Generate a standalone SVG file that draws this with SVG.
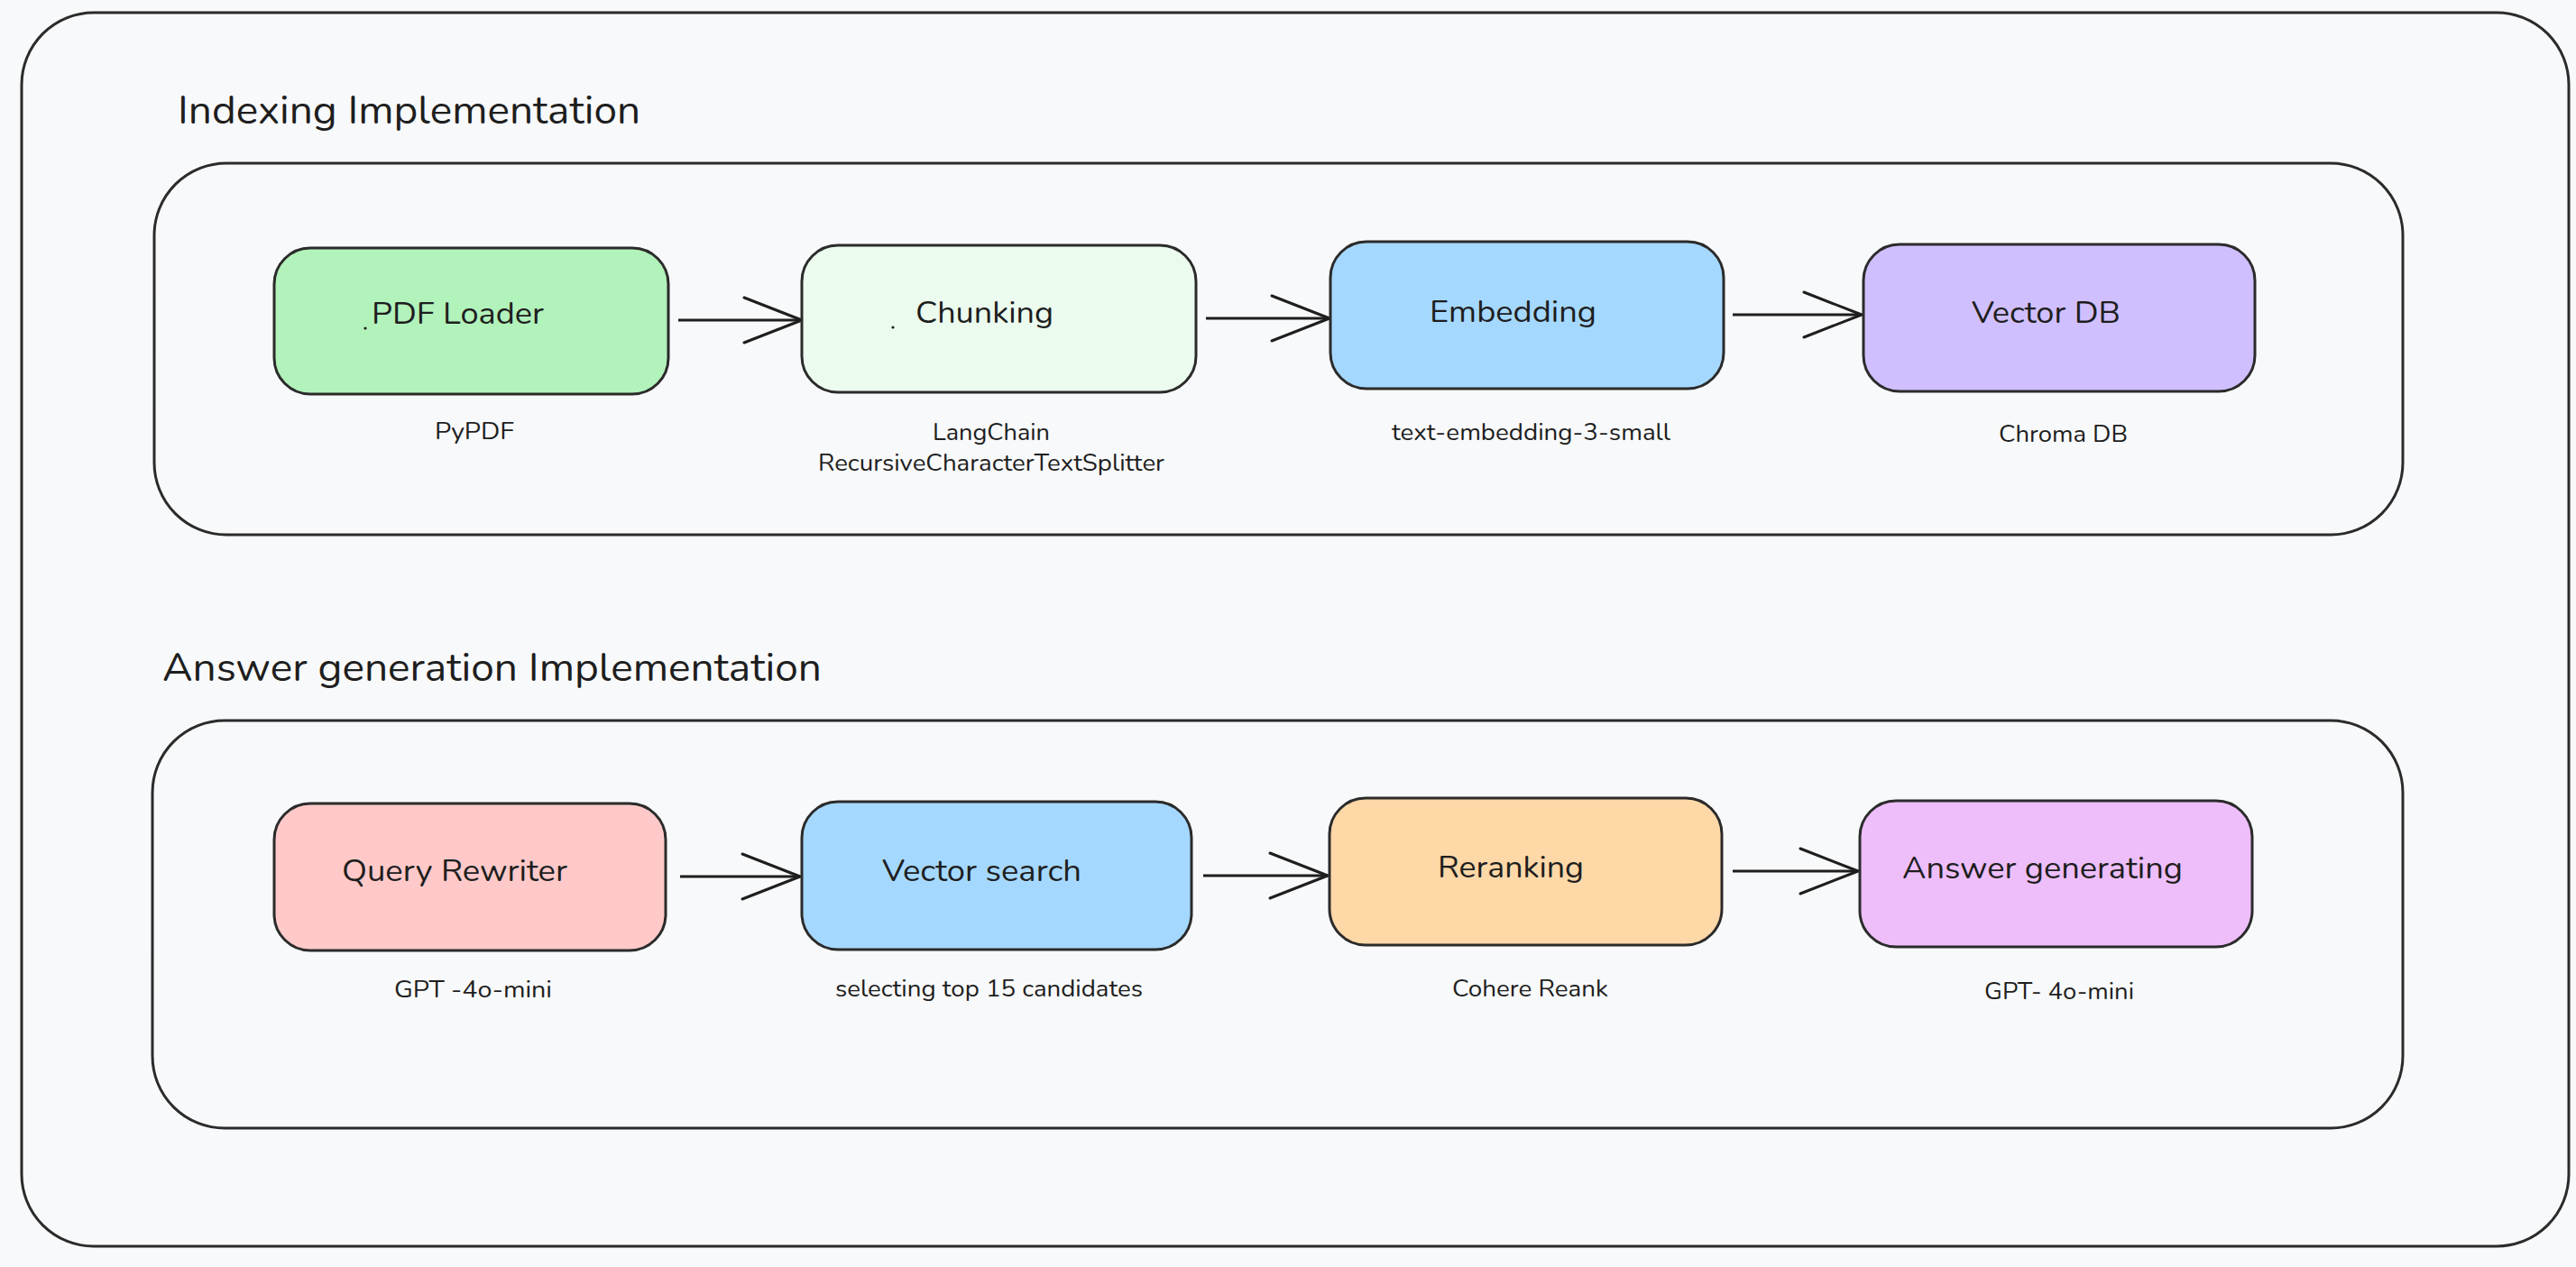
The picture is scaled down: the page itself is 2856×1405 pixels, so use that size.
<svg xmlns="http://www.w3.org/2000/svg" width="2856" height="1405" viewBox="0 0 2856 1405">
  <style>
    .frame { fill: #f8f9fa; stroke: #2b2b2b; stroke-width: 3; }
    .node { stroke: #2b2b2b; stroke-width: 3; }
    .title { font-family: Nunito, Lato, "Open Sans", sans-serif; font-size: 45px; fill: #1e1e1e; }
    .label { font-family: Nunito, Lato, "Open Sans", sans-serif; font-size: 35px; fill: #1e1e1e; }
    .sub { font-family: Nunito, Lato, "Open Sans", sans-serif; font-size: 26px; fill: #1e1e1e; }
    .conn { stroke: #1e1e1e; stroke-width: 3; fill: none; }
  </style>
  <defs>
    <marker id="arrow" markerUnits="userSpaceOnUse" viewBox="-70 -30 76 60" refX="0" refY="0" markerWidth="76" markerHeight="60" orient="auto">
      <path d="M -64 -25 L 0 0 L -64 25" fill="none" stroke="#1e1e1e" stroke-width="3" stroke-linecap="round" stroke-linejoin="round"/>
    </marker>
  </defs>
  <rect x="0" y="0" width="2856" height="1405" fill="#f8f9fa"/>

  <g id="outer">
    <rect class="frame" x="24" y="14" width="2824" height="1368" rx="80" ry="80"/>
  </g>

  <g id="indexing">
    <text class="title" x="197" y="137" textLength="513" lengthAdjust="spacingAndGlyphs">Indexing Implementation</text>
    <rect class="frame" x="171" y="181" width="2493" height="412" rx="80" ry="80"/>
  </g>

  <g id="answer">
    <text class="title" x="180" y="755" textLength="731" lengthAdjust="spacingAndGlyphs">Answer generation Implementation</text>
    <rect class="frame" x="169" y="799" width="2495" height="452" rx="80" ry="80"/>
  </g>

  <g id="connectors">
    <line class="conn" x1="752" y1="355" x2="889" y2="355" marker-end="url(#arrow)"/>
    <line class="conn" x1="1337" y1="353" x2="1474" y2="353" marker-end="url(#arrow)"/>
    <line class="conn" x1="1921" y1="349" x2="2064" y2="349" marker-end="url(#arrow)"/>
    <line class="conn" x1="754" y1="972" x2="887" y2="972" marker-end="url(#arrow)"/>
    <line class="conn" x1="1334" y1="971" x2="1472" y2="971" marker-end="url(#arrow)"/>
    <line class="conn" x1="1921" y1="966" x2="2060" y2="966" marker-end="url(#arrow)"/>
  </g>

  <g id="pdf-loader">
    <rect class="node" x="304" y="275" width="437" height="162" rx="40" ry="40" fill="#b2f2bb"/>
    <circle cx="405" cy="364" r="1.6" fill="#1e1e1e"/>
    <text class="label" x="412" y="359" textLength="191" lengthAdjust="spacingAndGlyphs">PDF Loader</text>
    <text class="sub" x="482" y="487" textLength="88" lengthAdjust="spacingAndGlyphs">PyPDF</text>
  </g>

  <g id="chunking">
    <rect class="node" x="889" y="272" width="437" height="163" rx="40" ry="40" fill="#ebfbee"/>
    <circle cx="990" cy="363" r="1.6" fill="#1e1e1e"/>
    <text class="label" x="1015" y="358" textLength="153" lengthAdjust="spacingAndGlyphs">Chunking</text>
    <text class="sub" x="1034" y="488" textLength="130" lengthAdjust="spacingAndGlyphs">LangChain</text>
    <text class="sub" x="907" y="522" textLength="384" lengthAdjust="spacingAndGlyphs">RecursiveCharacterTextSplitter</text>
  </g>

  <g id="embedding">
    <rect class="node" x="1475" y="268" width="436" height="163" rx="40" ry="40" fill="#a5d8ff"/>
    <text class="label" x="1585" y="357" textLength="185" lengthAdjust="spacingAndGlyphs">Embedding</text>
    <text class="sub" x="1543" y="488" textLength="309" lengthAdjust="spacingAndGlyphs">text-embedding-3-small</text>
  </g>

  <g id="vector-db">
    <rect class="node" x="2066" y="271" width="434" height="163" rx="40" ry="40" fill="#d0bfff"/>
    <text class="label" x="2186" y="358" textLength="165" lengthAdjust="spacingAndGlyphs">Vector DB</text>
    <text class="sub" x="2216" y="490" textLength="143" lengthAdjust="spacingAndGlyphs">Chroma DB</text>
  </g>

  <g id="query-rewriter">
    <rect class="node" x="304" y="891" width="434" height="163" rx="40" ry="40" fill="#ffc9c9"/>
    <text class="label" x="379" y="977" textLength="250" lengthAdjust="spacingAndGlyphs">Query Rewriter</text>
    <text class="sub" x="437" y="1106" textLength="175" lengthAdjust="spacingAndGlyphs">GPT -4o-mini</text>
  </g>

  <g id="vector-search">
    <rect class="node" x="889" y="889" width="432" height="164" rx="40" ry="40" fill="#a5d8ff"/>
    <text class="label" x="978" y="977" textLength="221" lengthAdjust="spacingAndGlyphs">Vector search</text>
    <text class="sub" x="926" y="1105" textLength="341" lengthAdjust="spacingAndGlyphs">selecting top 15 candidates</text>
  </g>

  <g id="reranking">
    <rect class="node" x="1474" y="885" width="435" height="163" rx="40" ry="40" fill="#ffd8a8"/>
    <text class="label" x="1594" y="973" textLength="162" lengthAdjust="spacingAndGlyphs">Reranking</text>
    <text class="sub" x="1610" y="1105" textLength="173" lengthAdjust="spacingAndGlyphs">Cohere Reank</text>
  </g>

  <g id="answer-generating">
    <rect class="node" x="2062" y="888" width="435" height="162" rx="40" ry="40" fill="#eebefa"/>
    <text class="label" x="2109" y="974" textLength="311" lengthAdjust="spacingAndGlyphs">Answer generating</text>
    <text class="sub" x="2200" y="1108" textLength="166" lengthAdjust="spacingAndGlyphs">GPT- 4o-mini</text>
  </g>
</svg>
